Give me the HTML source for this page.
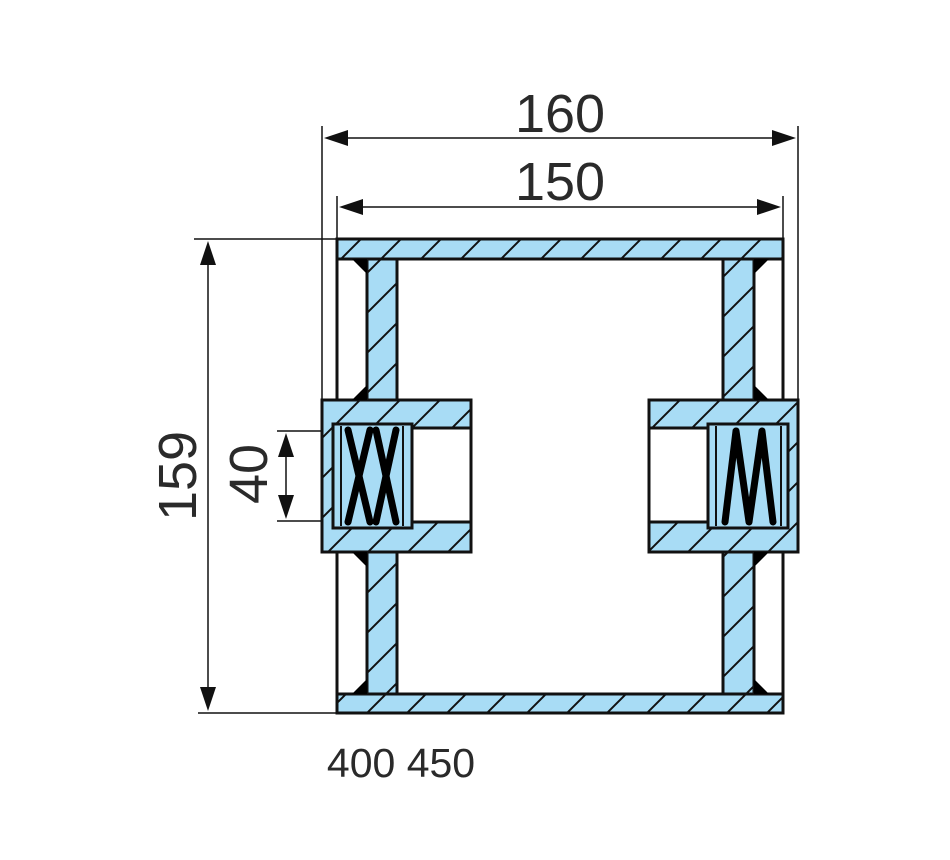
<!DOCTYPE html>
<html><head><meta charset="utf-8"><style>
html,body{margin:0;padding:0;background:#fff;}
svg{display:block;}
text{font-family:"Liberation Sans",sans-serif;fill:#2a2a2a;}
</style></head><body>
<svg width="950" height="860" viewBox="0 0 950 860" xmlns="http://www.w3.org/2000/svg">
<defs>
<pattern id="h" patternUnits="userSpaceOnUse" width="40" height="40">
<rect width="40" height="40" fill="#a8dcf5"/>
<path d="M-5,45 L45,-5 M-25,25 L25,-25 M15,65 L65,15" stroke="#111" stroke-width="2"/>
</pattern>
</defs>

<g stroke="#111" stroke-width="1.5" fill="none">
<line x1="322" y1="126" x2="322" y2="400"/>
<line x1="798" y1="126" x2="798" y2="400"/>
<line x1="337" y1="196" x2="337" y2="239"/>
<line x1="783" y1="196" x2="783" y2="239"/>
<line x1="194" y1="239" x2="337" y2="239"/>
<line x1="198" y1="713" x2="337" y2="713"/>
<line x1="277" y1="431" x2="340" y2="431"/>
<line x1="277" y1="521" x2="340" y2="521"/>
<line x1="340" y1="138" x2="780" y2="138"/>
<line x1="355" y1="207" x2="765" y2="207"/>
<line x1="208" y1="258" x2="208" y2="694"/>
<line x1="286" y1="450" x2="286" y2="502"/>
</g>
<g fill="#111">
<polygon points="324,138 348,130 348,146"/>
<polygon points="796,138 772,130 772,146"/>
<polygon points="339,207 363,199 363,215"/>
<polygon points="781,207 757,199 757,215"/>
<polygon points="208,241 200,265 216,265"/>
<polygon points="208,711 200,687 216,687"/>
<polygon points="286,433 278,457 294,457"/>
<polygon points="286,519 278,495 294,495"/>
</g>

<g stroke="#111" stroke-width="3">
<line x1="337" y1="259" x2="337" y2="400"/>
<line x1="337" y1="552" x2="337" y2="694"/>
<line x1="783" y1="259" x2="783" y2="400"/>
<line x1="783" y1="552" x2="783" y2="694"/>
</g>

<g stroke="#111" stroke-width="3" fill="url(#h)">
<rect x="337" y="239" width="446" height="20"/>
<rect x="337" y="694" width="446" height="19"/>
<rect x="367" y="259" width="30" height="141"/>
<rect x="367" y="552" width="30" height="142"/>
<rect x="723" y="259" width="31" height="141"/>
<rect x="723" y="552" width="31" height="142"/>
<rect x="322" y="400" width="149" height="152"/>
<rect x="649" y="400" width="149" height="152"/>
</g>
<rect x="412" y="428" width="59" height="94" fill="#fff" stroke="#111" stroke-width="3"/>
<rect x="649" y="428" width="59" height="94" fill="#fff" stroke="#111" stroke-width="3"/>
<g stroke="#111" stroke-width="3" fill="#a8dcf5">
<rect x="333" y="424" width="79" height="104"/>
<rect x="708" y="424" width="80" height="104"/>
</g>
<g stroke="#111" stroke-width="2" fill="none">
<line x1="341" y1="426" x2="341" y2="526"/><line x1="403" y1="426" x2="403" y2="526"/>
<line x1="716" y1="426" x2="716" y2="526"/><line x1="781" y1="426" x2="781" y2="526"/>
</g>
<!-- left springs: X shapes -->
<g stroke="#000" stroke-linecap="round" fill="none">
<line x1="348" y1="430" x2="370" y2="522" stroke-width="7"/>
<line x1="370" y1="430" x2="348" y2="522" stroke-width="7"/>
<line x1="376" y1="430" x2="396" y2="522" stroke-width="7"/>
<line x1="396" y1="430" x2="376" y2="522" stroke-width="7"/>
<polyline points="725,522 736,431 749,522 762,431 773,522" stroke-width="7" stroke-linejoin="round"/>
</g>
<g fill="#000">
<polygon points="352,259 367,259 367,274"/>
<polygon points="352,400 367,400 367,385"/>
<polygon points="352,552 367,552 367,567"/>
<polygon points="352,694 367,694 367,679"/>
<polygon points="769,259 754,259 754,274"/>
<polygon points="769,400 754,400 754,385"/>
<polygon points="769,552 754,552 754,567"/>
<polygon points="769,694 754,694 754,679"/>
</g>

<text x="560" y="132" font-size="54" text-anchor="middle">160</text>
<text x="560" y="200" font-size="54" text-anchor="middle">150</text>
<text transform="translate(196,476) rotate(-90)" font-size="54" text-anchor="middle">159</text>
<text transform="translate(267,474) rotate(-90)" font-size="54" text-anchor="middle">40</text>
<text x="401" y="777" font-size="41" text-anchor="middle" fill="#333">400 450</text>
</svg>
</body></html>
